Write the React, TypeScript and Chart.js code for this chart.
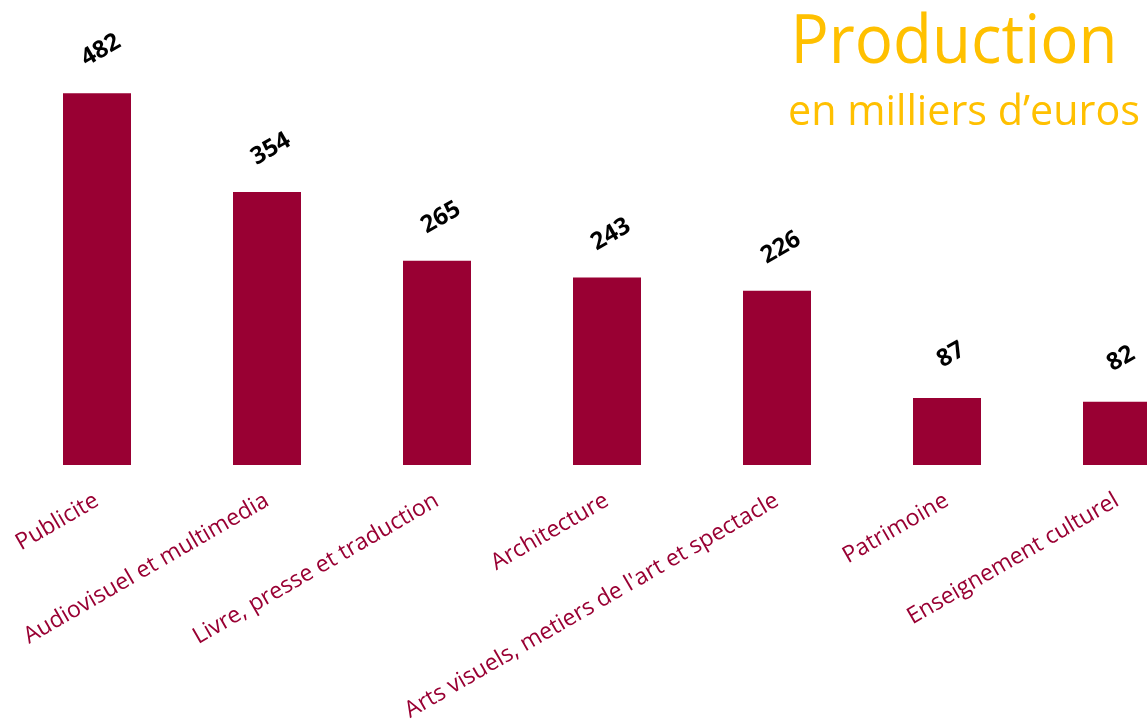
import React, { useEffect, useRef } from 'react';
import { Chart, registerables } from 'chart.js';

Chart.register(...registerables);

const categories = [
  'Publicite',
  'Audiovisuel et multimedia',
  'Livre, presse et traduction',
  'Architecture',
  "Arts visuels, metiers de l'art et spectacle",
  'Patrimoine',
  'Enseignement culturel',
];
const values = [482, 354, 265, 243, 226, 87, 82];
const titleMain = 'Production';
const titleSub = 'en milliers d\u2019euros';

const BAR = '#990033';
const GOLD = '#FFC000';

const valueLabels = {
  id: 'valueLabels',
  afterDatasetsDraw(chart: any) {
    const ctx = chart.ctx;
    const meta = chart.getDatasetMeta(0);
    ctx.save();
    ctx.font = 'bold 24px "Open Sans"';
    ctx.fillStyle = '#000000';
    ctx.textAlign = 'center';
    ctx.textBaseline = 'middle';
    meta.data.forEach((el: any, i: number) => {
      ctx.save();
      ctx.translate(el.x + 4, el.y - 43);
      ctx.rotate(-Math.PI / 6);
      ctx.fillText(String(values[i]), 0, 0);
      ctx.restore();
    });
    ctx.restore();
  },
};

const titlePlugin = {
  id: 'titleBox',
  afterDraw(chart: any) {
    const ctx = chart.ctx;
    ctx.save();
    ctx.fillStyle = GOLD;
    ctx.textAlign = 'center';
    ctx.textBaseline = 'alphabetic';
    ctx.font = '67px "Open Sans"';
    ctx.fillText(titleMain, 954, 63, 327);
    ctx.font = '42px "Open Sans"';
    ctx.fillText(titleSub, 964, 125, 352);
    ctx.restore();
  },
};

export default function App() {
  const ref = useRef<HTMLCanvasElement | null>(null);
  useEffect(() => {
    if (!ref.current) return;
    const chart = new Chart(ref.current, {
      type: 'bar',
      data: {
        labels: categories,
        datasets: [
          {
            data: values,
            backgroundColor: BAR,
            barPercentage: 0.4,
            categoryPercentage: 1,
          },
        ],
      },
      options: {
        responsive: false,
        animation: false,
        layout: { padding: { left: 12, right: 8, top: 10, bottom: 0 } },
        plugins: {
          legend: { display: false },
          tooltip: { enabled: false },
          title: { display: false },
        },
        scales: {
          x: {
            grid: { display: false, drawTicks: false },
            border: { display: false },
            ticks: {
              color: BAR,
              autoSkip: false,
              maxRotation: 30,
              minRotation: 30,
              padding: 22,
              font: { family: '"Open Sans"', size: 23 },
            },
            afterFit: (s: any) => {
              s.height = 259;
              s.paddingLeft = 0;
              s.paddingRight = 0;
            },
          },
          y: { display: false, min: 0, max: 590 },
        },
      },
      plugins: [valueLabels, titlePlugin],
    });
    return () => chart.destroy();
  }, []);
  return (
    <div
      style={{
        position: 'fixed',
        left: 0,
        top: 0,
        width: '100vw',
        height: '100vh',
        overflow: 'hidden',
        background: '#ffffff',
      }}
    >
      <canvas
        ref={ref}
        width={1210}
        height={724}
        style={{ display: 'block', width: 1210, height: 724 }}
      />
    </div>
  );
}
